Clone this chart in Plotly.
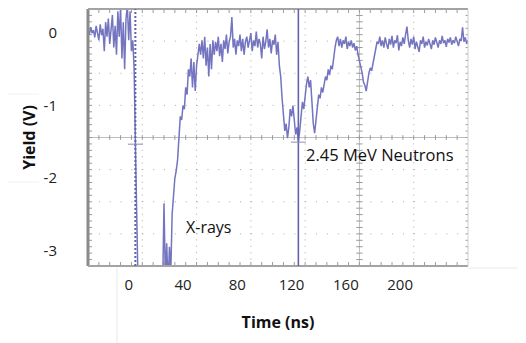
import plotly.graph_objects as go

# ---------------- data ----------------
time_ns = list(range(-30, 251))  # sample times, 1 ns apart

yield_v = [
    # -30 .. 4
    0.05, -0.02, 0.08, 0.0, 0.04, -0.06, 0.1, 0.02, -0.1, 0.12,
    -0.03, 0.06, -0.25, 0.15, -0.05, 0.2, -0.15, 0.05, 0.25, -0.2,
    0.1, -0.3, 0.3, -0.05, 0.35, -0.35, 0.15, -0.5, 0.2, 0.38,
    -0.1, 0.3, -0.25, -0.1, -0.5,
    # 5 .. 24 (off scale below the screen)
    -1.6, -3.6, -3.6, -3.7, -3.6, -3.7, -3.6, -3.6, -3.7, -3.6,
    -3.6, -3.7, -3.6, -3.6, -3.7, -3.6, -3.6, -3.7, -3.6, -3.6,
    # 25 .. 51
    -3.5, -2.35, -3.4, -2.9, -3.5, -2.95, -3.3, -2.5, -2.2, -2.0,
    -1.9, -1.75, -1.45, -1.15, -1.2, -1.0, -1.05, -0.75, -0.85, -0.5,
    -0.6, -0.35, -0.75, -0.4, -0.8, -0.45, -0.3,
    # 52 .. 110
    -0.15, -0.3, -0.1, -0.35, -0.05, -0.45, -0.2, -0.6, -0.15, -0.5,
    -0.1, -0.3, -0.12, -0.25, -0.05, -0.32, -0.15, -0.4, -0.1, -0.22,
    -0.02, -0.28, -0.12, -0.05, 0.22, -0.2, -0.08, -0.3, -0.1, -0.18,
    -0.02, -0.25, -0.08, -0.3, -0.12, -0.05, -0.2, -0.1, 0.0, -0.25,
    -0.1, -0.18, 0.02, -0.2, -0.08, -0.15, -0.35, -0.05, -0.22, -0.12,
    0.05, -0.2, -0.08, -0.28, -0.1, -0.16, -0.02, -0.3, -0.12,
    # 111 .. 150
    -0.45, -0.6, -0.9, -1.2, -1.35, -1.25, -1.45, -1.3, -1.05, -1.15,
    -1.0, -1.2, -1.4, -1.3, -1.5, -1.35, -1.1, -0.95, -1.05, -0.85,
    -0.7, -0.6, -0.75, -0.65, -1.0, -1.25, -1.38, -1.2, -1.0, -0.85,
    -0.9, -0.75, -0.82, -0.7, -0.6, -0.65, -0.5, -0.58, -0.45, -0.5,
    # 151 .. 190
    -0.3, -0.2, -0.1, -0.05, -0.18, -0.08, -0.2, -0.1, -0.15, -0.05,
    -0.22, -0.12, -0.18, -0.1, -0.2, -0.14, -0.24, -0.18, -0.3, -0.38,
    -0.5, -0.55, -0.68, -0.72, -0.8, -0.65, -0.55, -0.48, -0.52, -0.42,
    -0.3, -0.22, -0.12, -0.15, -0.05, -0.18, -0.1, -0.2, -0.06, -0.15,
    # 191 .. 250
    -0.22, -0.08, -0.16, -0.04, -0.2, -0.1, -0.14, -0.03, -0.24, -0.12,
    -0.18, -0.06, -0.15, -0.02, 0.09, -0.1, -0.2, -0.08, -0.16, -0.05,
    -0.22, -0.12, -0.18, -0.26, -0.1, -0.15, -0.05, -0.2, -0.12, -0.17,
    -0.08, -0.14, -0.22, -0.1, -0.16, -0.06, -0.13, -0.2, -0.1, -0.15,
    -0.04, -0.14, -0.1, -0.19, -0.08, -0.13, -0.06, -0.16, -0.1, -0.14,
    -0.05, -0.12, -0.18, -0.08, -0.11, 0.08, -0.12, -0.06, -0.15, -0.1,
]
assert len(yield_v) == len(time_ns)

x_tick_vals = [0, 40, 80, 120, 160, 200]
x_tick_text = ["0", "40", "80", "120", "160", "200"]
y_tick_vals = [0, -1, -2, -3]
y_tick_text = ["0", "-1", "-2", "-3"]

cursor_xray_ns = 4.9       # dotted cursor
cursor_neutron_ns = 125.0  # solid cursor

label_texts = ["X-rays", "2.45 MeV Neutrons"]
label_x = [58.7, 129.0]
label_y = [-2.68, -1.68]

x_range = [-30, 250]
y_range = [-3.214, 0.332]

# ---------------- figure ----------------
# the page body adds an 8 px margin, so the figure is 8 px smaller
W_PX, H_PX = 380.0, 257.0   # plot area in pixels
trace_color = "rgb(116,116,192)"

fig = go.Figure()
fig.add_trace(go.Scatter(
    x=time_ns, y=yield_v, mode="lines",
    line=dict(color=trace_color, width=1.5),
    hoverinfo="x+y", showlegend=False,
))

shapes = []
grid_col = "#a9a9a9"
n_xdiv, n_ydiv = 7, 8
minor_x = 1.0 / (n_xdiv * 5)
minor_y = 1.0 / (n_ydiv * 5)

# dotted grid
for k in range(1, n_xdiv):
    if k == 5:
        continue
    shapes.append(dict(type="line", xref="paper", yref="paper", x0=k / n_xdiv, x1=k / n_xdiv,
                       y0=0, y1=1, layer="below",
                       line=dict(color=grid_col, width=1, dash="1px,5.4px")))
for k in range(1, n_ydiv):
    if k == 4:
        continue
    shapes.append(dict(type="line", xref="paper", yref="paper", y0=k / n_ydiv, y1=k / n_ydiv,
                       x0=0, x1=1, layer="below",
                       line=dict(color=grid_col, width=1, dash="1px,9.86px")))

# centre cross lines
cx, cy = 5 / n_xdiv, 0.5
shapes.append(dict(type="line", xref="paper", yref="paper", x0=cx, x1=cx, y0=0, y1=1,
                   layer="below", line=dict(color="#bdbdbd", width=1)))
shapes.append(dict(type="line", xref="paper", yref="paper", x0=0, x1=1, y0=cy, y1=cy,
                   layer="below", line=dict(color="#bdbdbd", width=1)))

# minor tick marks (paths in paper coordinates)
def path_from(segs):
    return " ".join(f"M{a:.5f},{b:.5f} L{c:.5f},{d:.5f}" for a, b, c, d in segs)

tv = 4.0 / H_PX   # vertical tick length in paper units
th = 4.0 / W_PX   # horizontal tick length
segs_h = []
for i in range(1, n_xdiv * 5):
    x = i * minor_x
    segs_h.append((x, 1, x, 1 - tv))
    segs_h.append((x, 0, x, tv))
    segs_h.append((x, cy - tv * 0.6, x, cy + tv * 0.6))
segs_v = []
for j in range(1, n_ydiv * 5):
    y = j * minor_y
    segs_v.append((0, y, th, y))
    segs_v.append((cx - th * 0.8, y, cx + th * 0.8, y))
    segs_v.append((1, y, 1 - th * 0.6, y))
shapes.append(dict(type="path", xref="paper", yref="paper", path=path_from(segs_h),
                   layer="below", line=dict(color="#9a9a9a", width=1)))
shapes.append(dict(type="path", xref="paper", yref="paper", path=path_from(segs_v),
                   layer="below", line=dict(color="#9a9a9a", width=1)))

# screen frame
shapes.append(dict(type="line", xref="paper", yref="paper", x0=0, x1=0, y0=0, y1=1,
                   line=dict(color="#8a8a8a", width=3)))
shapes.append(dict(type="line", xref="paper", yref="paper", x0=0, x1=1, y0=1, y1=1,
                   line=dict(color="#a3a3a3", width=2)))
shapes.append(dict(type="line", xref="paper", yref="paper", x0=0, x1=1, y0=0, y1=0,
                   line=dict(color="#a3a3a3", width=2)))
shapes.append(dict(type="line", xref="paper", yref="paper", x0=1, x1=1, y0=0, y1=1,
                   line=dict(color="#cfcfcf", width=1)))

# cursors
cursor_col = "rgb(100,100,172)"
shapes.append(dict(type="line", xref="x", yref="paper", x0=cursor_xray_ns, x1=cursor_xray_ns,
                   y0=0, y1=1, line=dict(color=cursor_col, width=2, dash="2px,2px")))
shapes.append(dict(type="line", xref="x", yref="paper", x0=cursor_neutron_ns, x1=cursor_neutron_ns,
                   y0=0, y1=1, line=dict(color=cursor_col, width=1.6)))
# cursor crossbars
shapes.append(dict(type="line", xref="x", yref="paper", x0=cursor_xray_ns - 5.5, x1=cursor_xray_ns + 5.5,
                   y0=0.474, y1=0.474, line=dict(color="#8c8cb4", width=1)))
shapes.append(dict(type="line", xref="x", yref="paper", x0=cursor_neutron_ns - 5.5, x1=cursor_neutron_ns + 5.5,
                   y0=0.482, y1=0.482, line=dict(color="#8c8cb4", width=1)))

# faint slide-box lines outside the screen
faint = "#e8e8e8"
shapes.append(dict(type="line", xref="paper", yref="paper", x0=0.0763, x1=0.0763, y0=-0.008, y1=-0.30,
                   line=dict(color=faint, width=1)))
shapes.append(dict(type="line", xref="paper", yref="paper", x0=1.0, x1=1.16, y0=-0.008, y1=-0.008,
                   line=dict(color=faint, width=1)))
shapes.append(dict(type="line", xref="paper", yref="paper", x0=-0.218, x1=-0.129, y0=0.669, y1=0.669,
                   line=dict(color="#f2f2f2", width=1)))
shapes.append(dict(type="line", xref="paper", yref="paper", x0=-0.218, x1=-0.129, y0=0.327, y1=0.327,
                   line=dict(color="#f2f2f2", width=1)))

annotations = []
for txt, ax_, ay_, anch, fs in zip(label_texts, label_x, label_y, ["center", "left"], [16, 16.5]):
    annotations.append(dict(x=ax_, y=ay_, xref="x", yref="y", text=txt, showarrow=False,
                            xanchor=anch, yanchor="middle",
                            font=dict(family="Open Sans", size=fs, color="#111111")))

fig.update_layout(
    width=518, height=335,
    margin=dict(l=80, r=58, t=1, b=77),
    paper_bgcolor="white", plot_bgcolor="white",
    shapes=shapes, annotations=annotations,
    showlegend=False,
    font=dict(family="Open Sans", color="#111111"),
)
fig.update_xaxes(
    range=x_range, showgrid=False, zeroline=False, showline=False,
    tickmode="array", tickvals=x_tick_vals, ticktext=x_tick_text,
    ticks="outside", ticklen=5, tickcolor="rgba(0,0,0,0)",
    tickfont=dict(family="Open Sans", size=15, color="#222222"),
    title=dict(text="<b>Time (ns)</b>", font=dict(family="Open Sans", size=16, color="#111111"),
               standoff=23),
)
fig.update_yaxes(
    range=y_range, showgrid=False, zeroline=False, showline=False,
    tickmode="array", tickvals=y_tick_vals, ticktext=y_tick_text,
    ticks="outside", ticklen=27, tickcolor="rgba(0,0,0,0)",
    tickfont=dict(family="Open Sans", size=15, color="#222222"),
    title=dict(text="<b>Yield (V)</b>", font=dict(family="Open Sans", size=16, color="#111111"),
               standoff=3),
)

fig.write_html("out.html")
